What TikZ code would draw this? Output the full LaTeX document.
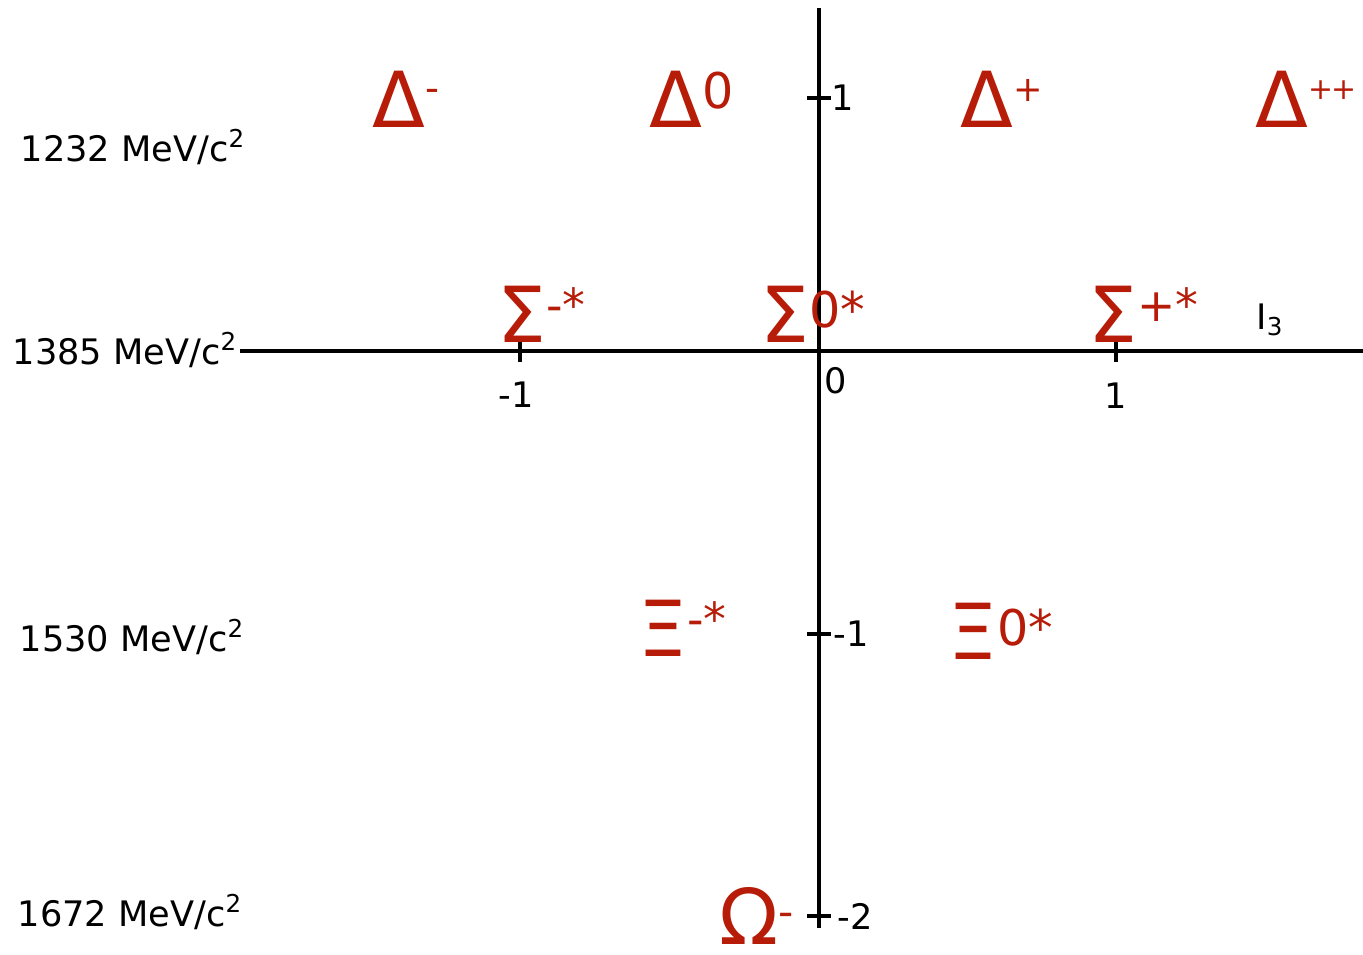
\documentclass[tikz,border=0pt]{standalone}
\usepackage{fontspec}
\setmainfont{DejaVu Sans}
\usepackage{tikz}
\usetikzlibrary{positioning}
\definecolor{partRed}{RGB}{182,28,8}
\definecolor{axisBlack}{HTML}{000000}
\newcommand{\chg}[3][28]{\raisebox{#2}{\fontsize{#1}{#1}\selectfont #3}}

\begin{document}
\begin{tikzpicture}[
    x=0.02cm, y=-0.02cm,
    axis/.style={draw=axisBlack, line width=2pt},
    tick/.style={draw=axisBlack, line width=2pt},
    mass/.style={font=\fontsize{20}{24}\selectfont, text=axisBlack, inner sep=0pt},
    num/.style={font=\fontsize{20}{24}\selectfont, text=axisBlack, inner sep=0pt},
    part/.style={font=\fontsize{44}{48}\selectfont, text=partRed, inner sep=0pt,
                 text depth=0pt, anchor=base west},
]
    \useasboundingbox (0,0) rectangle (1363,955);

    % Axes
    \coordinate (xl) at (240,351);
    \coordinate (xr) at (1363,351);
    \coordinate (yt) at (819,8);
    \coordinate (yb) at (819,928);
    \draw[axis] (xl) -- (xr);
    \draw[axis] (yt) -- (yb);

    % Ticks
    \foreach \tx/\tn in {520/xm, 1116/xp} {
        \coordinate (\tn a) at (\tx,340);
        \coordinate (\tn b) at (\tx,362);
        \draw[tick] (\tn a) -- (\tn b);
    }
    \foreach \ty/\tn in {98/ya, 634/yb, 916/yc} {
        \coordinate (\tn a) at (807,\ty);
        \coordinate (\tn b) at (831,\ty);
        \draw[tick] (\tn a) -- (\tn b);
    }

    % Tick labels
    \node[num] (ta) at (843,98) {1};
    \node[num] (tb) at (851,634) {-1};
    \node[num] (tc) at (855,916) {-2};
    \node[num] (t0) at (836,381) {0};
    \node[num] (tm) at (516,395) {-1};
    \node[num] (tp) at (1116,396) {1};
    \node[num] (i3) at (1270,320) {I\textsubscript{3}};

    % Masses
    \node[mass] (m1) at (133,147) {1232 MeV/c\textsuperscript{2}};
    \node[mass] (m2) at (125,350) {1385 MeV/c\textsuperscript{2}};
    \node[mass] (m3) at (132,637) {1530 MeV/c\textsuperscript{2}};
    \node[mass] (m4) at (130,912) {1672 MeV/c\textsuperscript{2}};

    % Delta row
    \node[part] (dm) at (372,128) {Δ\chg[22]{15pt}{-}};
    \node[part] (d0) at (649,128) {Δ\chg{11pt}{0}};
    \node[part] (dp) at (960,128) {Δ\chg[20]{15pt}{+}};
    \node[part] (dpp) at (1255,128) {Δ\chg[17]{16pt}{+\kern-1pt+}};

    % Sigma row
    \node[part] (sm) at (497,343) {Σ\chg[26]{12pt}{-*}};
    \node[part] (s0) at (760,343) {Σ\chg{9pt}{0*}};
    \node[part] (sp) at (1088,343) {Σ\chg[26]{12pt}{+*}};

    % Xi row
    \node[part] (xm) at (638,657) {Ξ\chg[26]{12pt}{-*}};
    \node[part] (x0) at (948,660) {Ξ\chg{8pt}{0*}};

    % Omega
    \node[part] (om) at (719,944) {Ω\chg[24]{10pt}{-}};
\end{tikzpicture}
\end{document}
